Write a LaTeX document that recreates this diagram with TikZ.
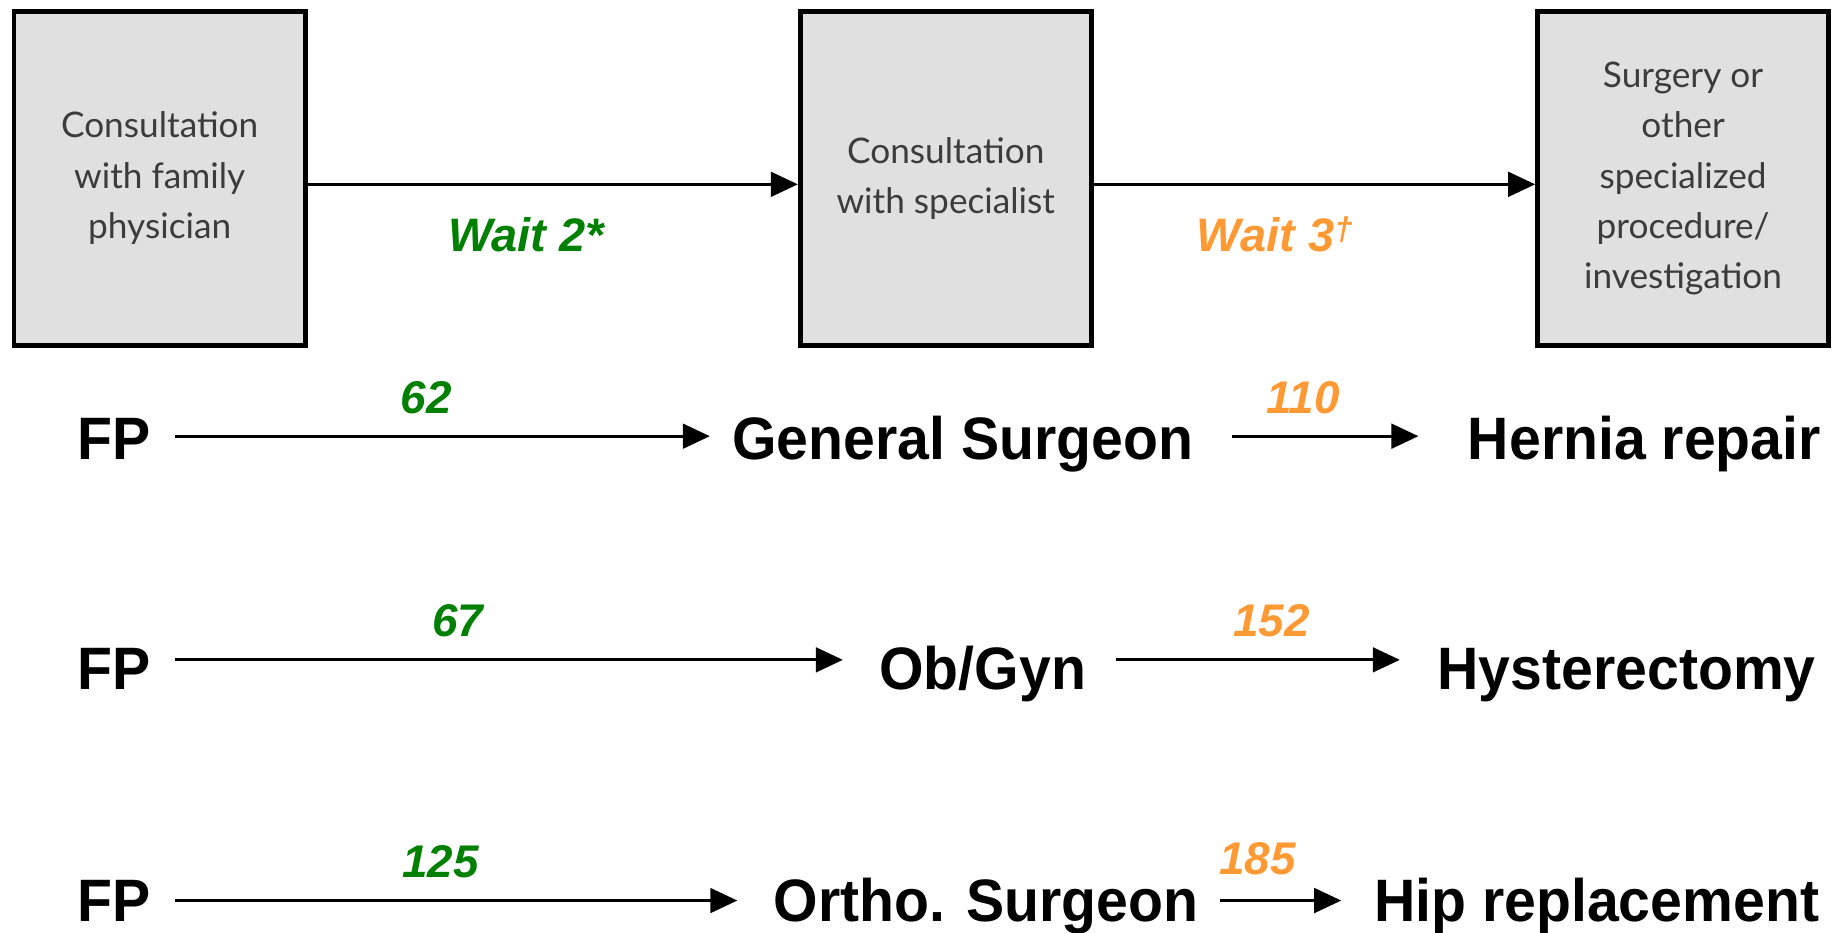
\documentclass[tikz,border=0pt]{standalone}
\usepackage{fontspec}
\setmainfont{Liberation Sans}
\newfontfamily\boxfont{Lato}
\newfontfamily\rowfont[FakeStretch=0.955]{Liberation Sans}
\usepackage{tikz}
\usetikzlibrary{positioning,arrows.meta}
\definecolor{waitgreen}{RGB}{0,128,0}
\definecolor{waitorange}{RGB}{255,153,51}
\definecolor{boxgray}{RGB}{224,224,224}
\definecolor{boxtext}{RGB}{60,60,60}

\begin{document}
\begin{tikzpicture}[x=1pt,y=1pt,>={Triangle[length=23pt,width=21pt]},
	stage/.style={draw=black,line width=4pt,fill=boxgray,minimum width=248pt,minimum height=284pt,inner sep=0pt,align=center,text=boxtext,font=\boxfont\fontsize{30}{43}\selectfont},
	flow/.style={->,line width=2.5pt},
	item/.style={anchor=base,inner xsep=0pt,inner ysep=0pt,text height=45pt,text depth=5pt,font=\rowfont\bfseries\fontsize{51}{55}\selectfont},
	wait/.style={anchor=base,inner sep=0pt,font=\bfseries\itshape\fontsize{40}{42}\selectfont},
	days/.style={anchor=base,inner sep=0pt,font=\bfseries\itshape\fontsize{39}{41}\selectfont},
	]
	\useasboundingbox (0,0) rectangle (1568,-794);

	% the three steps
	\node[stage] (0) at (136,-152) {Consultation\\with family\\physician};
	\node[stage] (1) at (805.5,-152) {Consultation\\with specialist};
	\node[stage] (2) at (1433.5,-152) {Surgery or\\other\\specialized\\procedure/\\investigation};

	\draw[flow] ([yshift=-5pt]0.east) -- ([yshift=-5pt]1.west);
	\draw[flow] ([yshift=-5pt]1.east) -- ([yshift=-5pt]2.west);

	\node[wait,text=waitgreen] (w2) at (448,-214) {Wait 2*};
	\node[wait,text=waitorange] (w3) at (1086,-214) {Wait 3\textsuperscript{\textdagger}};

	% hernia
	\node[item] (fp1) at (97.5,-391.5) {FP};
	\node[item] (gs) at (820,-391.5) {General Surgeon};
	\node[item] (hr) at (1400.5,-391.5) {Hernia repair};
	\draw[flow,shorten <=20pt,shorten >=19pt] (fp1.east) -- (gs.west);
	\draw[flow,shorten <=33pt,shorten >=42pt] (gs.east) -- (hr.west);
	\node[days,text=waitgreen] (d1) at (363,-352) {62};
	\node[days,text=waitorange] (d2) at (1110,-352) {110};

	% hysterectomy
	\node[item] (fp2) at (97.5,-587) {FP};
	\node[item] (og) at (837,-587) {Ob/Gyn};
	\node[item] (hy) at (1385.5,-587) {Hysterectomy};
	\draw[flow,shorten <=20pt,shorten >=31pt] ([yshift=5pt]fp2.east) -- ([yshift=5pt]og.west);
	\draw[flow,shorten <=25pt,shorten >=32pt] ([yshift=5pt]og.east) -- ([yshift=5pt]hy.west);
	\node[days,text=waitgreen] (d3) at (390,-542) {67};
	\node[days,text=waitorange] (d4) at (1083,-542) {152};

	% hip
	\node[item] (fp3) at (97.5,-785) {FP};
	\node[item] (os) at (840,-785) {Ortho. Surgeon};
	\node[item] (hp) at (1360,-785) {Hip replacement};
	\draw[flow,shorten <=20pt,shorten >=31pt] ([yshift=-2pt]fp3.east) -- ([yshift=-2pt]os.west);
	\draw[flow,shorten <=18pt,shorten >=28pt] ([yshift=-2pt]os.east) -- ([yshift=-2pt]hp.west);
	\node[days,text=waitgreen] (d5) at (375,-747) {125};
	\node[days,text=waitorange] (d6) at (1071,-745) {185};

\end{tikzpicture}
\end{document}
